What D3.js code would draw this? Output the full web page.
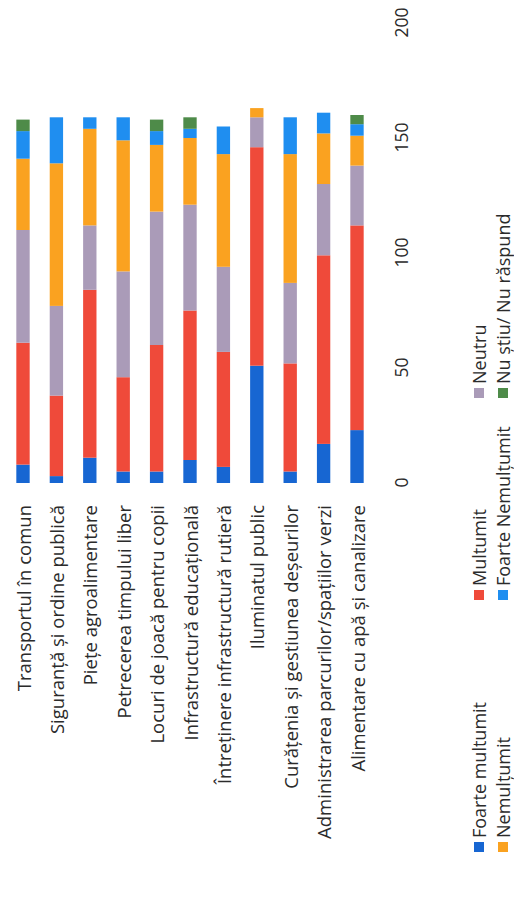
<!DOCTYPE html>
<html>
<head>
<meta charset="utf-8">
<script src="https://cdn.jsdelivr.net/npm/d3@7/dist/d3.min.js"></script>
<style>
  html, body { margin: 0; padding: 0; background: #ffffff; }
  svg { display: block; }
  text { font-family: "Open Sans", "Noto Sans", sans-serif; fill: #2b2b2b; }
</style>
</head>
<body>
<svg id="chart" width="514" height="902"></svg>
<script>
const categories = [
  "Transportul în comun",
  "Siguranță și ordine publică",
  "Piețe agroalimentare",
  "Petrecerea timpului liber",
  "Locuri de joacă pentru copii",
  "Infrastructură educațională",
  "Întreținere infrastructură rutieră",
  "Iluminatul public",
  "Curățenia și gestiunea deșeurilor",
  "Administrarea parcurilor/spațiilor verzi",
  "Alimentare cu apă și canalizare"
];
const seriesNames = ["Foarte multumit", "Multumit", "Neutru", "Nemulțumit", "Foarte Nemulțumit", "Nu știu/ Nu răspund"];
const foarteMultumit   = [8, 3, 11, 5, 5, 10, 7, 51, 5, 17, 23];
const multumit         = [53, 35, 73, 41, 55, 65, 50, 95, 47, 82, 89];
const neutru           = [49, 39, 28, 46, 58, 46, 37, 13, 35, 31, 26];
const nemultumit       = [31, 62, 42, 57, 29, 29, 49, 4, 56, 22, 13];
const foarteNemultumit = [12, 20, 5, 10, 6, 4, 12, 0, 16, 9, 5];
const nuStiu           = [5, 0, 0, 0, 5, 5, 0, 0, 0, 0, 4];
const tickValues = [0, 50, 100, 150, 200];
const colors = ["#1766d2", "#ef4a3a", "#aa9bb8", "#faa220", "#1f8ef0", "#4e8b49"];

const seriesData = [foarteMultumit, multumit, neutru, nemultumit, foarteNemultumit, nuStiu];
const rows = categories.map((c, i) => {
  const r = { cat: c };
  seriesNames.forEach((s, j) => r[s] = seriesData[j][i]);
  return r;
});
const stacked = d3.stack().keys(seriesNames)(rows);

const W = 902, H = 514;
const svg = d3.select("#chart");
// draw in the chart's own frame, then rotate it like the reference
const g = svg.append("g").attr("transform", `translate(0,${W}) rotate(-90)`);

const x = d3.scaleLinear().domain([0, 200]).range([419, 879]);
const y = d3.scaleBand().domain(categories).range([6.3, 373.7]).paddingInner(0.6).paddingOuter(0.3);
const color = d3.scaleOrdinal().domain(seriesNames).range(colors);

g.append("g").selectAll("g").data(stacked).join("g")
  .attr("fill", d => color(d.key))
  .selectAll("rect").data(d => d).join("rect")
  .attr("x", d => x(d[0]))
  .attr("y", d => y(d.data.cat))
  .attr("width", d => Math.max(0, x(d[1]) - x(d[0])))
  .attr("height", y.bandwidth());

// category labels
g.append("g").selectAll("text").data(categories).join("text")
  .attr("x", 397)
  .attr("y", d => y(d) + y.bandwidth() / 2)
  .attr("text-anchor", "end")
  .attr("dominant-baseline", "central")
  .attr("font-size", 18.5)
  .text(d => d);

// value axis labels
const axis = d3.axisBottom(x).tickValues(tickValues).tickSize(0).tickPadding(0);
const axG = g.append("g").attr("transform", "translate(0,396)").call(axis);
axG.select(".domain").remove();
axG.selectAll("text").attr("font-size", 17.5).attr("fill", "#2b2b2b")
  .attr("font-family", "'Open Sans', sans-serif");

// legend
const legendPos = [
  { col: 0, row: 0 }, { col: 1, row: 0 }, { col: 2, row: 0 },
  { col: 0, row: 1 }, { col: 1, row: 1 }, { col: 2, row: 1 }
];
const colX = [50, 302, 504];
const rowY = [479, 503];
const lg = g.append("g").selectAll("g").data(seriesNames).join("g")
  .attr("transform", (d, i) => `translate(${colX[legendPos[i].col]},${rowY[legendPos[i].row]})`);
lg.append("rect").attr("x", 0).attr("y", -5).attr("width", 10).attr("height", 10)
  .attr("fill", d => color(d));
lg.append("text").attr("x", 14).attr("y", 0).attr("dominant-baseline", "central")
  .attr("font-size", 18).text(d => d);
</script>
</body>
</html>
